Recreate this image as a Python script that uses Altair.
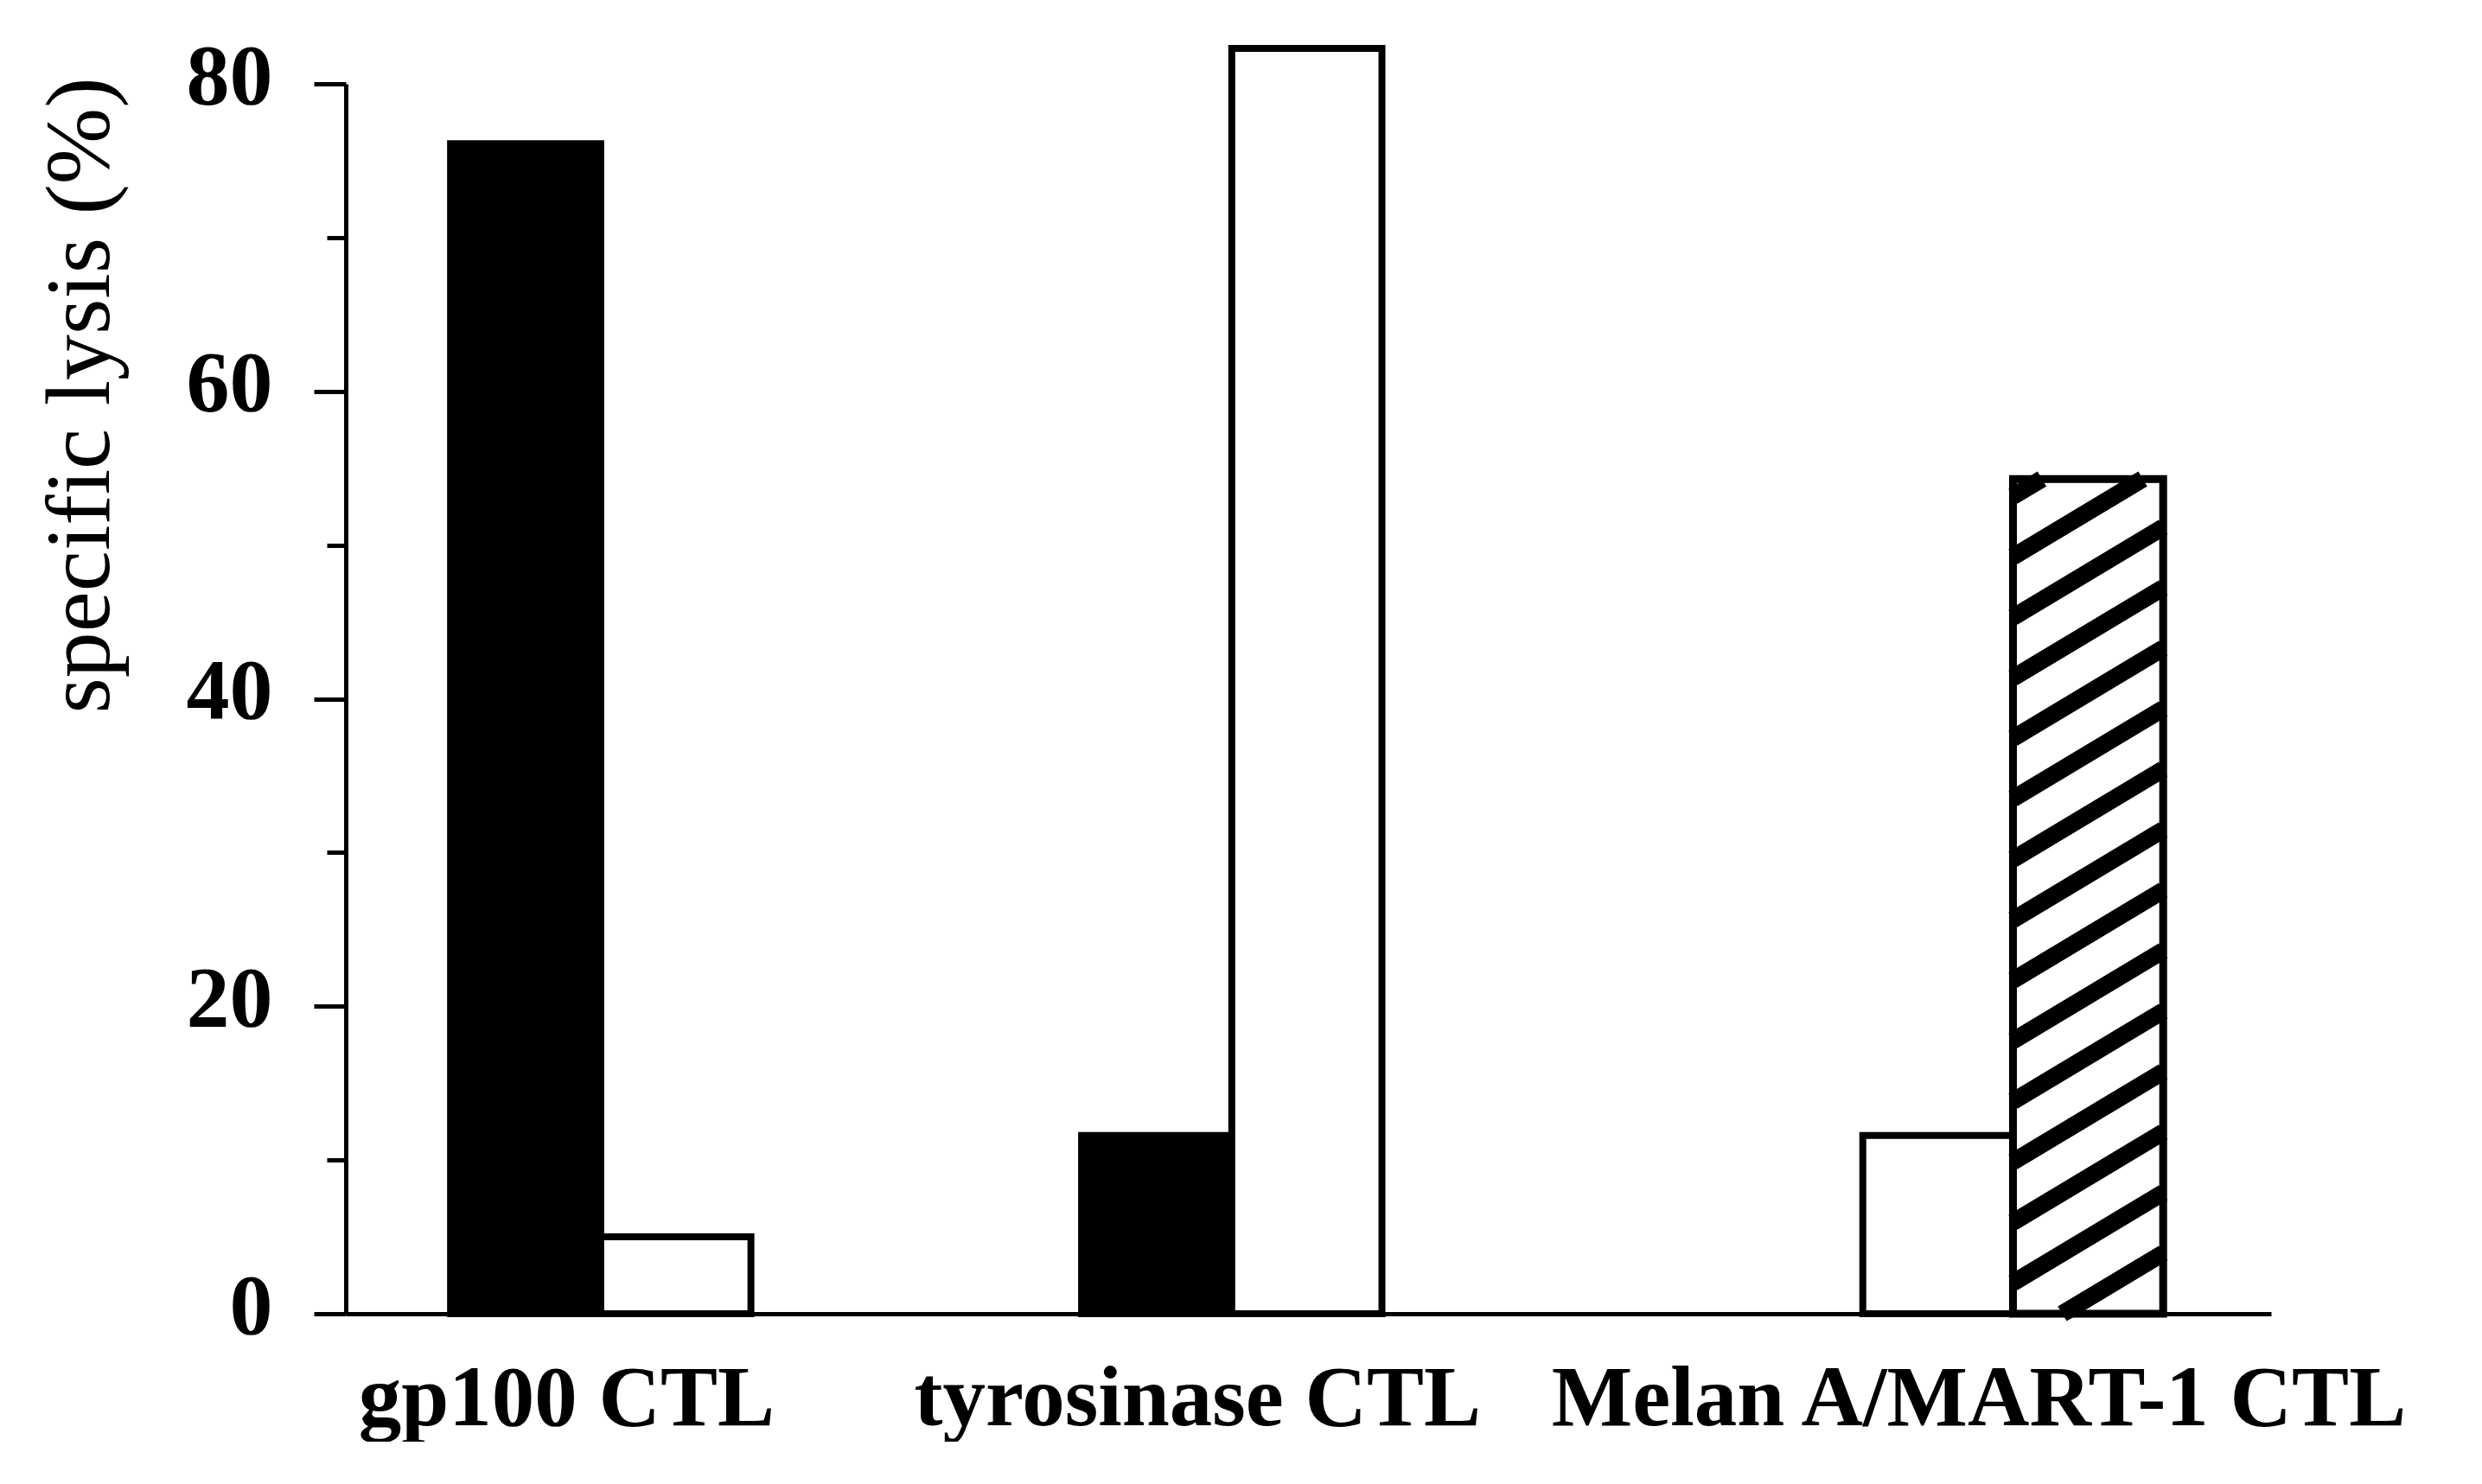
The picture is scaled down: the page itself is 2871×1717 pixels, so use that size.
import altair as alt
import pandas as pd

# ---------------- data ----------------
groups = ["gp100 CTL", "tyrosinase CTL", "Melan A/MART-1 CTL"]
series = ["solid", "open", "hatched"]
solid_values = [76.1, 11.6, 0.0]
open_values = [5.0, 82.3, 11.6]
hatched_values = [0.0, 0.0, 54.3]
y_major = [0, 20, 40, 60, 80]
y_minor = [10, 30, 50, 70]
y_title = "specific lysis (%)"

# ---------------- layout / style ----------------
PLOT_W = 2227
PLOT_H = 1423
X_START = 0.166   # offset of first slot inside a group step
SLOT = 0.238      # slot width in group-step units
X_MAX = 3.051     # x domain in group-step units
Y_MAX = 80
FONT = "Liberation Serif"
STRIPE_SLOPE = 0.6    # pixel slope of the hatch
STRIPE_GAP_PX = 70    # vertical pixel distance between hatch lines

series_values = dict(zip(series, [solid_values, open_values, hatched_values]))

rows = []
for gi, g in enumerate(groups):
    for si, s in enumerate(series):
        v = series_values[s][gi]
        if v > 0:
            left = gi + X_START + si * SLOT
            rows.append(dict(group=g, series=s, xa=left, xb=left + SLOT, ya=v, yb=0.0))
bars = pd.DataFrame(rows)

# label positions: centre of the non-zero bars of each group
label_pos = []
for g in groups:
    sub = bars[bars["group"] == g]
    label_pos.append(float((sub["xa"].min() + sub["xb"].max()) / 2))

# hatch lines for the hatched bars
px_x = PLOT_W / X_MAX
px_y = PLOT_H / Y_MAX
stripes = []
for _, r in bars[bars["series"] == "hatched"].iterrows():
    width = r["xb"] - r["xa"]
    rise = STRIPE_SLOPE * width * px_x / px_y
    gap = STRIPE_GAP_PX / px_y
    top = r["ya"]
    k = 0
    while True:
        yl = -rise + k * gap
        if yl > top:
            break
        yr = yl + rise
        xl, xr = r["xa"], r["xb"]
        yl_c, yr_c = yl, yr
        if yl < 0:
            xl = r["xa"] + (0 - yl) / rise * width
            yl_c = 0.0
        if yr > top:
            xr = r["xb"] - (yr - top) / rise * width
            yr_c = top
        if xr > xl:
            stripes.append(dict(xa=xl, xb=xr, ya=yl_c, yb=yr_c))
        k += 1
stripes = pd.DataFrame(stripes)

# ---------------- encodings ----------------
label_expr = " : ".join(
    [f"datum.value < {i + 1} ? '{g}'" for i, g in enumerate(groups[:-1])] + [f"'{groups[-1]}'"]
)

x_axis = alt.Axis(
    values=label_pos, labelExpr=label_expr, ticks=False, grid=False, title=None,
    domainColor="black", domainWidth=5, labelFont=FONT, labelFontWeight="bold",
    labelFontSize=99, labelColor="black", labelPadding=50, labelOffset=-40, labelFlush=False,
    labelOverlap=False, labelBaseline="top", labelAlign="center", labelLimit=0,
)
y_axis = alt.Axis(
    values=sorted(y_major + y_minor), grid=False, title=y_title,
    labelExpr=f"indexof({y_major}, datum.value) >= 0 ? datum.label : ''",
    tickSize={"condition": {"test": f"indexof({y_major}, datum.value) >= 0", "value": 37}, "value": 22},
    tickWidth=5, tickColor="black", domainColor="black", domainWidth=5,
    labelFont=FONT, labelFontWeight="bold", labelFontSize=100, labelColor="black",
    labelPadding=48, labelOffset=-8, labelAlign="right", labelBaseline="middle",
    titleFont=FONT, titleFontWeight="normal", titleFontSize=106, titleColor="black",
    titleAngle=270, titleX=-275, titleY=360, titleAlign="center", titleBaseline="alphabetic",
)
x_scale = alt.Scale(domain=[0, X_MAX], nice=False, zero=False)
y_scale = alt.Scale(domain=[0, Y_MAX], nice=False)


def enc(chart):
    return chart.encode(
        x=alt.X("xa:Q", scale=x_scale, axis=x_axis),
        x2="xb:Q",
        y=alt.Y("ya:Q", scale=y_scale, axis=y_axis),
        y2="yb:Q",
    )


fills = enc(alt.Chart(bars).mark_rect(stroke="black", strokeWidth=8)).encode(
    fill=alt.Fill("series:N", scale=alt.Scale(domain=series, range=["black", "white", "white"]), legend=None)
)
hatch = enc(alt.Chart(stripes).mark_rule(color="black", strokeWidth=20, strokeCap="butt"))
outline = enc(
    alt.Chart(bars[bars["series"] == "hatched"]).mark_rect(fillOpacity=0, stroke="black", strokeWidth=9)
)

chart = (
    alt.layer(fills, hatch, outline)
    .properties(
        width=PLOT_W, height=PLOT_H,
        padding={"left": 32, "top": 31, "right": 0, "bottom": 0},
        view=alt.ViewBackground(stroke="transparent"),
    )
    .configure_view(stroke="transparent")
    .configure(background="white")
)

chart.save("out.html", embed_options={"renderer": "svg", "actions": False})
